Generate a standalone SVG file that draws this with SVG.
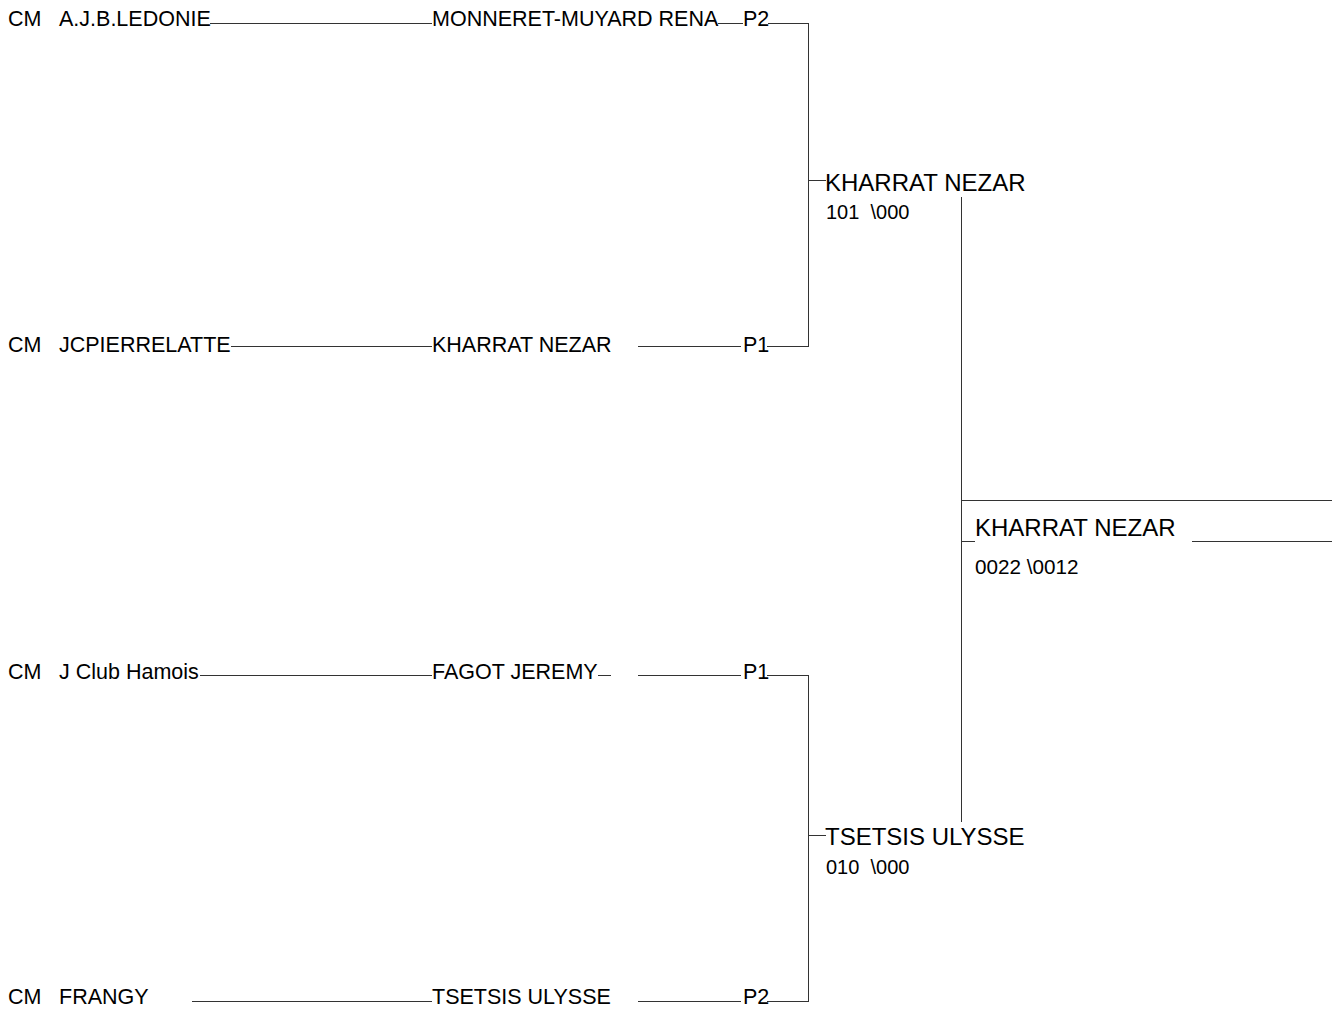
<svg xmlns="http://www.w3.org/2000/svg" width="1332" height="1010" viewBox="0 0 1332 1010">
<style>
text{font-family:"Liberation Sans",Arial,sans-serif;fill:#000;white-space:pre}
.n{font-size:21.5px}
.w{font-size:24px}
.s{font-size:20.7px}
.s2{font-size:20px}
.c line{stroke:#333;stroke-width:1;shape-rendering:crispEdges}
</style>
<rect width="1332" height="1010" fill="#fff"/>
<g id="r1"><text class="n" x="8" y="26">CM</text><text class="n" x="59" y="26">A.J.B.LEDONIE</text><text class="n" x="432" y="26">MONNERET-MUYARD RENA</text><text class="n" x="743" y="26">P2</text></g>
<g id="r2"><text class="n" x="8" y="352">CM</text><text class="n" x="59" y="352">JCPIERRELATTE</text><text class="n" x="432" y="352">KHARRAT NEZAR</text><text class="n" x="743" y="352">P1</text></g>
<g id="r3"><text class="n" x="8" y="679">CM</text><text class="n" x="59" y="679">J Club Hamois</text><text class="n" x="432" y="679">FAGOT JEREMY</text><text class="n" x="743" y="679">P1</text></g>
<g id="r4"><text class="n" x="8" y="1004">CM</text><text class="n" x="59" y="1004">FRANGY</text><text class="n" x="432" y="1004">TSETSIS ULYSSE</text><text class="n" x="743" y="1004">P2</text></g>
<g id="sf1"><text class="w" x="825" y="191">KHARRAT NEZAR</text><text class="s2" x="826" y="219" xml:space="preserve">101  \000</text></g>
<g id="sf2"><text class="w" x="825" y="845">TSETSIS ULYSSE</text><text class="s2" x="826" y="874" xml:space="preserve">010  \000</text></g>
<g id="final"><text class="w" x="975" y="536">KHARRAT NEZAR</text><text class="s" x="975" y="574">0022 \0012</text></g>
<g id="connectors" class="c">
<line x1="210" y1="23.5" x2="432" y2="23.5"/>
<line x1="718" y1="23.5" x2="743" y2="23.5"/>
<line x1="768" y1="23.5" x2="808.5" y2="23.5"/>
<line x1="231" y1="346.5" x2="432" y2="346.5"/>
<line x1="638" y1="346.5" x2="741" y2="346.5"/>
<line x1="767" y1="346.5" x2="808.5" y2="346.5"/>
<line x1="808.5" y1="23" x2="808.5" y2="347"/>
<line x1="808" y1="180.5" x2="826" y2="180.5"/>
<line x1="200" y1="675.5" x2="432" y2="675.5"/>
<line x1="598" y1="675.5" x2="611" y2="675.5"/>
<line x1="638" y1="675.5" x2="741" y2="675.5"/>
<line x1="767" y1="675.5" x2="808.5" y2="675.5"/>
<line x1="808.5" y1="675" x2="808.5" y2="1002"/>
<line x1="808" y1="835.5" x2="826" y2="835.5"/>
<line x1="192" y1="1001.5" x2="432" y2="1001.5"/>
<line x1="638" y1="1001.5" x2="741" y2="1001.5"/>
<line x1="767" y1="1001.5" x2="808.5" y2="1001.5"/>
<line x1="961.5" y1="197" x2="961.5" y2="822"/>
<line x1="961" y1="500.5" x2="1332" y2="500.5"/>
<line x1="961" y1="541.5" x2="975" y2="541.5"/>
<line x1="1192" y1="541.5" x2="1332" y2="541.5"/>
</g>
</svg>
